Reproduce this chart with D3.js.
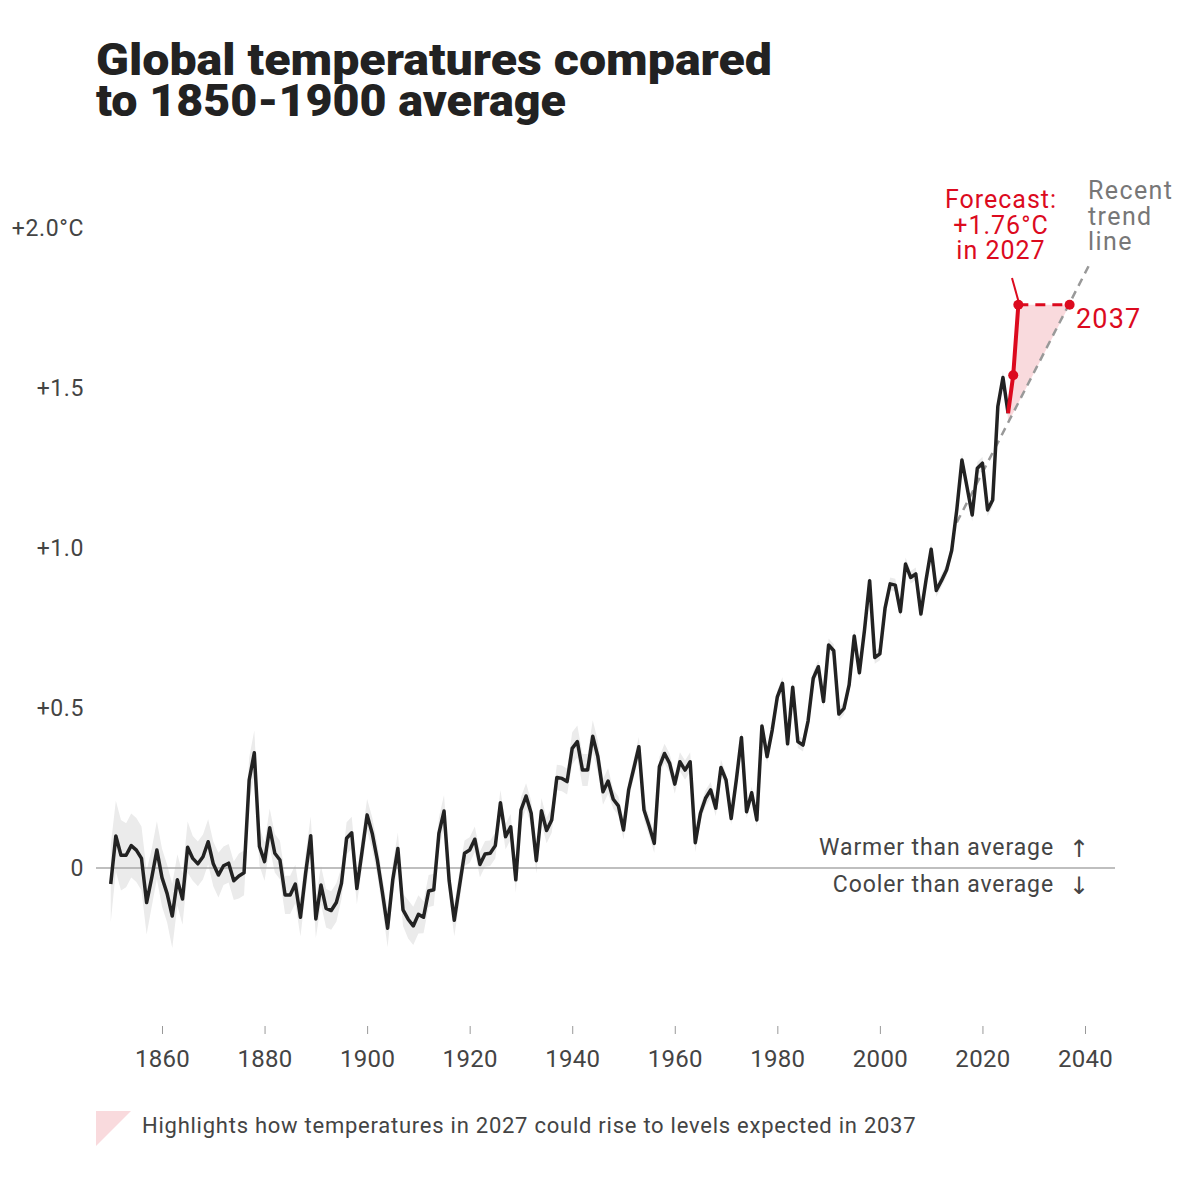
<!DOCTYPE html>
<meta charset="utf-8">
<script src="https://d3js.org/d3.v7.min.js"></script>
<style>
body {
  margin: 0;
  background: #fff;
  font-family: Roboto, 'Open Sans', sans-serif;
}
.axis .domain {
  display: none;
}
.axis text {
  font-family: Roboto, sans-serif;
  fill: #444;
}
</style>
<svg width="1200" height="1200"></svg>

<script>
// annual anomalies vs 1850-1900, starting 1850
var startYear = 1850;
var anomaly = [
  -0.05, 0.10, 0.04, 0.04, 0.07, 0.056, 0.03, -0.108, -0.03, 0.056,
  -0.03, -0.08, -0.15, -0.037, -0.097, 0.065, 0.03, 0.013, 0.035, 0.082,
  0.013, -0.022, 0.007, 0.015, -0.04, -0.025, -0.015, 0.275, 0.36, 0.067,
  0.02, 0.126, 0.046, 0.025, -0.084, -0.084, -0.05, -0.154, -0.017, 0.101,
  -0.159, -0.053, -0.126, -0.133, -0.108, -0.048, 0.093, 0.11, -0.064, 0.05,
  0.166, 0.108, 0.025, -0.079, -0.188, -0.037, 0.061, -0.131, -0.16, -0.181,
  -0.145, -0.154, -0.072, -0.068, 0.108, 0.178, -0.04, -0.163, -0.058, 0.046,
  0.056, 0.09, 0.011, 0.044, 0.046, 0.07, 0.204, 0.098, 0.129, -0.037,
  0.181, 0.225, 0.171, 0.023, 0.179, 0.117, 0.15, 0.283, 0.28, 0.27,
  0.374, 0.395, 0.306, 0.306, 0.412, 0.348, 0.238, 0.272, 0.215, 0.194,
  0.119, 0.244, 0.311, 0.379, 0.181, 0.131, 0.077, 0.317, 0.358, 0.327,
  0.262, 0.332, 0.306, 0.332, 0.079, 0.171, 0.218, 0.244, 0.187, 0.314,
  0.275, 0.155, 0.275, 0.408, 0.176, 0.235, 0.15, 0.444, 0.348, 0.431,
  0.535, 0.577, 0.388, 0.565, 0.395, 0.384, 0.46, 0.593, 0.629, 0.52,
  0.697, 0.679, 0.481, 0.499, 0.572, 0.725, 0.61, 0.744, 0.898, 0.658,
  0.669, 0.811, 0.888, 0.884, 0.801, 0.95, 0.908, 0.919, 0.794, 0.9,
  0.996, 0.867, 0.898, 0.931, 0.992, 1.12, 1.275, 1.19, 1.103, 1.249,
  1.265, 1.119, 1.15, 1.442, 1.533, 1.421
];
// half-width of the uncertainty band, same years
var spread = [
  0.12, 0.11, 0.11, 0.10, 0.10, 0.10, 0.10, 0.10, 0.09, 0.09,
  0.09, 0.09, 0.10, 0.08, 0.08, 0.08, 0.07, 0.07, 0.07, 0.07,
  0.07, 0.07, 0.06, 0.06, 0.06, 0.07, 0.07, 0.07, 0.07, 0.06,
  0.06, 0.06, 0.06, 0.06, 0.06, 0.06, 0.06, 0.06, 0.06, 0.06,
  0.06, 0.06, 0.06, 0.06, 0.06, 0.05, 0.05, 0.05, 0.05, 0.05,
  0.05, 0.05, 0.05, 0.05, 0.06, 0.05, 0.05, 0.05, 0.06, 0.06,
  0.06, 0.05, 0.05, 0.05, 0.05, 0.05, 0.05, 0.05, 0.05, 0.04,
  0.04, 0.04, 0.04, 0.04, 0.04, 0.04, 0.04, 0.04, 0.04, 0.04,
  0.04, 0.04, 0.04, 0.04, 0.04, 0.04, 0.04, 0.04, 0.04, 0.04,
  0.05, 0.05, 0.05, 0.05, 0.05, 0.05, 0.04, 0.04, 0.03, 0.03,
  0.03, 0.03, 0.03, 0.03, 0.03, 0.03, 0.03, 0.03, 0.03, 0.03,
  0.03, 0.03, 0.03, 0.03, 0.03, 0.025, 0.025, 0.025, 0.025, 0.025,
  0.02, 0.02, 0.02, 0.02, 0.02, 0.02, 0.02, 0.02, 0.02, 0.02,
  0.02, 0.02, 0.02, 0.02, 0.02, 0.02, 0.02, 0.02, 0.02, 0.02,
  0.02, 0.02, 0.02, 0.02, 0.02, 0.02, 0.02, 0.02, 0.02, 0.02,
  0.02, 0.02, 0.02, 0.02, 0.02, 0.02, 0.02, 0.02, 0.02, 0.02,
  0.02, 0.02, 0.02, 0.02, 0.02, 0.02, 0.02, 0.02, 0.02, 0.02,
  0.02, 0.02, 0.02, 0.02, 0.02, 0.02
];

// forecast path (red) and recent trend line
var forecastYears = [2025, 2026, 2027];
var forecastVals = [1.421, 1.54, 1.76];
var matchYear = 2037;
var trendYears = [2015, 2041];
var trendVals = [1.08, 1.89];

var xTicks = [1860, 1880, 1900, 1920, 1940, 1960, 1980, 2000, 2020, 2040];
var yTicks = [0, 0.5, 1.0, 1.5, 2.0];

var red = "#dc0a1e", pink = "#f9dadd", ink = "#222";

var svg = d3.select("svg");

var x = d3.scaleLinear().domain([1860, 2040]).range([162, 1085]);
var y = d3.scaleLinear().domain([0, 2]).range([868, 228]);

var data = anomaly.map(function(v, i) {
  return {year: startYear + i, v: v, s: spread[i]};
});

// title (condensed look via textLength)
var title = svg.append("text")
  .attr("font-family", "Roboto, sans-serif")
  .attr("font-weight", 900)
  .attr("font-size", 44)
  .attr("fill", ink);
title.append("tspan").attr("x", 96).attr("y", 75)
  .attr("textLength", 676).attr("lengthAdjust", "spacingAndGlyphs")
  .text("Global temperatures compared");
title.append("tspan").attr("x", 96).attr("y", 116)
  .attr("textLength", 470).attr("lengthAdjust", "spacingAndGlyphs")
  .text("to 1850-1900 average");

// uncertainty band
svg.append("path")
  .datum(data)
  .attr("fill", "#ebebeb")
  .attr("d", d3.area()
    .x(function(d) { return x(d.year); })
    .y0(function(d) { return y(d.v - d.s); })
    .y1(function(d) { return y(d.v + d.s); }));

// zero line
svg.append("line")
  .attr("x1", 96).attr("x2", 1115)
  .attr("y1", y(0)).attr("y2", y(0))
  .attr("stroke", "#aaa")
  .attr("stroke-width", 1.5);

// highlight triangle
var slope = (trendVals[1] - trendVals[0]) / (trendYears[1] - trendYears[0]);
function trendAt(yr) { return trendVals[0] + slope * (yr - trendYears[0]); }

var poly = forecastYears.map(function(yr, i) { return [x(yr), y(forecastVals[i])]; });
poly.push([x(matchYear), y(forecastVals[2])]);
poly.push([x(forecastYears[0]), y(trendAt(forecastYears[0]))]);
svg.append("polygon")
  .attr("points", poly.map(function(p) { return p.join(","); }).join(" "))
  .attr("fill", pink);

// trend line
svg.append("line")
  .attr("x1", x(trendYears[0])).attr("y1", y(trendVals[0]))
  .attr("x2", x(trendYears[1])).attr("y2", y(trendVals[1]))
  .attr("stroke", "#999")
  .attr("stroke-width", 2.5)
  .attr("stroke-dasharray", "8,6");

// observed line
svg.append("path")
  .datum(data)
  .attr("fill", "none")
  .attr("stroke", ink)
  .attr("stroke-width", 3.5)
  .attr("stroke-linejoin", "round")
  .attr("d", d3.line()
    .x(function(d) { return x(d.year); })
    .y(function(d) { return y(d.v); }));

// forecast
svg.append("line")
  .attr("x1", x(forecastYears[2])).attr("y1", y(forecastVals[2]))
  .attr("x2", x(matchYear)).attr("y2", y(forecastVals[2]))
  .attr("stroke", red)
  .attr("stroke-width", 3)
  .attr("stroke-dasharray", "10,7");

svg.append("path")
  .datum(forecastYears.map(function(yr, i) { return [yr, forecastVals[i]]; }))
  .attr("fill", "none")
  .attr("stroke", red)
  .attr("stroke-width", 4)
  .attr("d", d3.line()
    .x(function(d) { return x(d[0]); })
    .y(function(d) { return y(d[1]); }));

var dots = [[forecastYears[1], forecastVals[1]], [forecastYears[2], forecastVals[2]], [matchYear, forecastVals[2]]];
svg.selectAll(".dot")
  .data(dots)
  .enter().append("circle")
  .attr("class", "dot")
  .attr("cx", function(d) { return x(d[0]); })
  .attr("cy", function(d) { return y(d[1]); })
  .attr("r", 5)
  .attr("fill", red);

// axes
svg.append("g")
  .attr("class", "axis")
  .attr("transform", "translate(0,1026)")
  .call(d3.axisBottom(x).tickValues(xTicks).tickSize(8).tickPadding(16).tickFormat(d3.format("d")))
  .call(function(g) {
    g.selectAll("line").attr("stroke", "#999");
    g.selectAll("text").attr("font-size", 24).attr("letter-spacing", 0.3);
  });

svg.append("g")
  .attr("class", "axis")
  .attr("transform", "translate(84,0)")
  .call(d3.axisLeft(y).tickValues(yTicks).tickSize(0).tickPadding(0)
    .tickFormat(function(d) {
      if (d === 0) return "0";
      return "+" + d.toFixed(1) + (d === 2 ? "°C" : "");
    }))
  .call(function(g) {
    g.selectAll("text").attr("font-size", 23).attr("letter-spacing", 0.6);
  });

// annotations
var fc = svg.append("text")
  .attr("text-anchor", "middle")
  .attr("font-size", 25)
  .attr("letter-spacing", 1)
  .attr("fill", red);
["Forecast:", "+1.76°C", "in 2027"].forEach(function(t, i) {
  fc.append("tspan").attr("x", 1001).attr("y", 208 + i * 25.5).text(t);
});

svg.append("line")
  .attr("x1", 1012).attr("y1", 278)
  .attr("x2", x(forecastYears[2])).attr("y2", y(forecastVals[2]) - 4)
  .attr("stroke", red)
  .attr("stroke-width", 2);

var rt = svg.append("text")
  .attr("font-size", 25)
  .attr("letter-spacing", 1.4)
  .attr("fill", "#777");
["Recent", "trend", "line"].forEach(function(t, i) {
  rt.append("tspan").attr("x", 1088).attr("y", 199 + i * 25.5).text(t);
});

svg.append("text")
  .attr("x", 1076).attr("y", 328)
  .attr("font-size", 27)
  .attr("letter-spacing", 1.2)
  .attr("fill", red)
  .text(matchYear);

svg.append("text")
  .attr("x", 1054).attr("y", 855)
  .attr("text-anchor", "end")
  .attr("font-size", 23)
  .attr("letter-spacing", 0.9)
  .attr("fill", "#444")
  .text("Warmer than average");
svg.append("text")
  .attr("x", 1054).attr("y", 892)
  .attr("text-anchor", "end")
  .attr("font-size", 23)
  .attr("letter-spacing", 0.9)
  .attr("fill", "#444")
  .text("Cooler than average");
svg.append("text")
  .attr("x", 1079).attr("y", 857)
  .attr("text-anchor", "middle")
  .attr("font-family", "'DejaVu Sans', sans-serif")
  .attr("font-size", 24)
  .attr("fill", "#444")
  .text("↑");
svg.append("text")
  .attr("x", 1079).attr("y", 894)
  .attr("text-anchor", "middle")
  .attr("font-family", "'DejaVu Sans', sans-serif")
  .attr("font-size", 24)
  .attr("fill", "#444")
  .text("↓");

// legend
svg.append("path")
  .attr("d", "M96,1111L131,1111L96,1146Z")
  .attr("fill", pink);
svg.append("text")
  .attr("x", 142).attr("y", 1133)
  .attr("font-size", 22)
  .attr("letter-spacing", 0.75)
  .attr("fill", "#444")
  .text("Highlights how temperatures in 2027 could rise to levels expected in 2037");
</script>
